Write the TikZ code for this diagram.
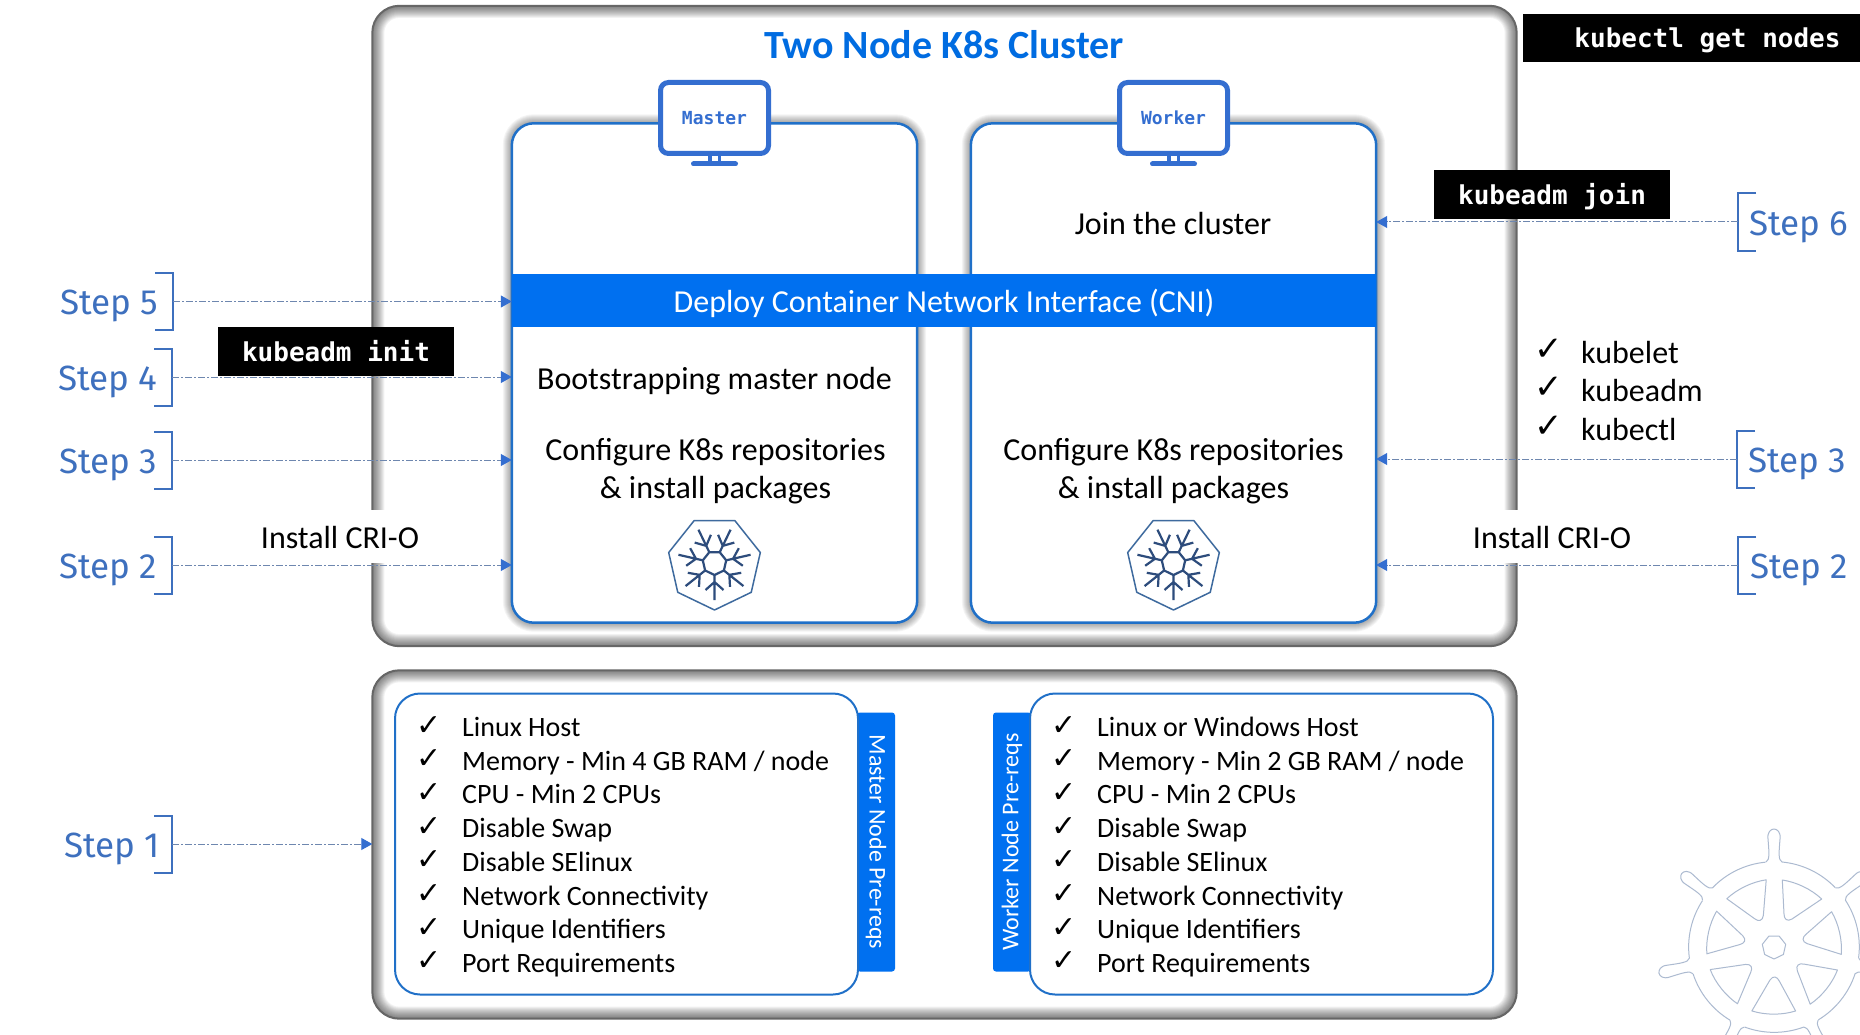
\documentclass[tikz,border=0pt]{standalone}
\usepackage{fontspec}
\setmainfont{Carlito}
\setmonofont{DejaVu Sans Mono}
\newfontfamily\stepfont{Fira Sans}
\newfontfamily\chkfont{DejaVu Sans}
\usetikzlibrary{arrows.meta}

\definecolor{bandblue}{RGB}{0,112,240}
\definecolor{lineblue}{RGB}{32,112,200}
\definecolor{pcblue}{RGB}{52,110,208}
\definecolor{stepblue}{RGB}{62,112,190}
\definecolor{dashblue}{RGB}{110,135,175}
\definecolor{titleblue}{RGB}{0,108,225}
\definecolor{snowdark}{RGB}{45,76,124}
\definecolor{snowedge}{RGB}{62,106,158}
\definecolor{wheelgrey}{RGB}{172,186,208}

\tikzset{
  panelbox/.style={inner sep=0pt},
  hostbox/.style={draw=lineblue, line width=2.5pt, fill=white, rounded corners=22pt},
  listbox/.style={draw=lineblue, line width=2pt, fill=white, rounded corners=25pt, inner sep=0pt},
  tabbox/.style={fill=bandblue, text=white, rounded corners=3pt, inner sep=0pt, font=\fontsize{24}{26}\selectfont},
  cmdbox/.style={fill=black, text=white, inner sep=0pt, text height=23pt, text depth=3pt, font=\ttfamily\bfseries\fontsize{26}{28}\selectfont},
  plain/.style={inner sep=0pt, align=center, font=\fontsize{32}{38}\selectfont},
  item/.style={inner sep=0pt, anchor=base west, font=\fontsize{28}{30}\selectfont},
  chk/.style={inner sep=0pt, anchor=base west, font=\chkfont\fontsize{30}{32}\selectfont},
  steplabel/.style={inner sep=0pt, anchor=base, text=stepblue, font=\stepfont\fontsize{35}{38}\selectfont},
  stepbracket/.style={draw=stepblue, line width=2pt},
  steparrow/.style={draw=dashblue, line width=1pt, dash pattern=on 7pt off 2pt on 2pt off 2pt,
    -{Triangle[length=11pt,width=12pt,color=pcblue]}},
  snowline/.style={draw=snowdark, line width=2.2pt},
  wheelline/.style={draw=wheelgrey, line width=1pt, line join=round}
}

\newcommand{\innershade}[1]{
  \begin{scope}
    \clip [rounded corners=27pt] (#1.south west) rectangle (#1.north east);
    \foreach \w in {24,22,...,2}
      \path [draw=black, opacity=.05, line width=\w pt, rounded corners=27pt, shift={(2,0)}]
        (#1.south west) rectangle (#1.north east);
  \end{scope}
  \path [draw=black!60, line width=2pt, rounded corners=27pt] (#1.south west) rectangle (#1.north east);
}
\newcommand{\outershade}[1]{
  \foreach \w in {18,16,...,2}
    \path [draw=black, opacity=.045, line width=\w pt, rounded corners=22pt]
      (#1.south west) rectangle (#1.north east);
  \path [hostbox] (#1.south west) rectangle (#1.north east);
}

\begin{document}
\begin{tikzpicture}[x=1pt,y=-1pt]
\useasboundingbox (0,0) rectangle (1860,1035);
\path [fill=white] (0,0) rectangle (1860,1035);

\begin{scope}
  \clip (0,0) rectangle (1860,1035);
  \foreach \k in {0,...,6} {
    \begin{scope}[shift={(1774,947)}, rotate=\k*360/7]
      \path [wheelline] (-8,-85) .. controls (-4,-87) and (-5,-95) .. (-6,-108)
        .. controls (-7,-115) and (-3,-118) .. (0,-118)
        .. controls (3,-118) and (7,-115) .. (6,-108)
        .. controls (5,-95) and (4,-87) .. (8,-85)
        arc [start angle=275.4, end angle=316, radius=85];
      \path [wheelline] (8.3,-67) .. controls (22,-65) and (37,-58) .. (47.7,-48)
        -- (18,-28) .. controls (13,-25) and (10,-28) .. (10,-33) -- cycle;
    \end{scope}
  }
  \draw [wheelline, shift={(1774,947)}, samples=8, domain=0:7]
    plot ({12*cos(90+\x*360/7)},{12*sin(90+\x*360/7)}) -- cycle;
\end{scope}

\node (cluster) [panelbox, minimum width=1144pt, minimum height=640pt] at (944.5,326) {};
\innershade{cluster}
\node (prereqs) [panelbox, minimum width=1144pt, minimum height=348pt] at (944.5,844.5) {};
\innershade{prereqs}

\node (titletext) [inner sep=0pt, anchor=base, text=titleblue, font=\bfseries\fontsize{40}{44}\selectfont] at (944,59) {Two Node K8s Cluster};

\node (master) [minimum width=405pt, minimum height=499pt, inner sep=0pt] at (714.5,373) {};
\outershade{master}
\node (worker) [minimum width=405pt, minimum height=499pt, inner sep=0pt] at (1173.5,373) {};
\outershade{worker}
\node (cni) [fill=bandblue, text=white, inner sep=0pt, minimum width=864pt, minimum height=53pt, text height=24pt, text depth=0pt, font=\fontsize{32}{34}\selectfont] at (944,300.5) {Deploy Container Network Interface (CNI)};

\foreach \pc/\lab/\cx in {masterpc/Master/714.5, workerpc/Worker/1173.5} {
  \node (\pc) [draw=pcblue, fill=white, line width=5pt, rounded corners=8pt, minimum width=108pt, minimum height=71pt, inner sep=0pt, text=pcblue, font=\ttfamily\bfseries\fontsize{18}{20}\selectfont] at (\cx,118) {\lab};
  \path [fill=pcblue] ([xshift=-6.5pt]\pc.south) rectangle ([xshift=-3pt,yshift=-6pt]\pc.south);
  \path [fill=pcblue] ([xshift=3pt]\pc.south) rectangle ([xshift=6.5pt,yshift=-6pt]\pc.south);
  \path [draw=pcblue, line width=5pt, line cap=round] ([xshift=-21pt,yshift=-8pt]\pc.south) -- ([xshift=21pt,yshift=-8pt]\pc.south);
}

\node (jointext) [plain] at (1173,223.5) {Join the cluster};
\node (boottext) [plain] at (714.5,381.5) {Bootstrapping master node};
\node (mconfig) [plain] at (715.5,471.5) {Configure K8s repositories\\\& install packages};
\node (wconfig) [plain] at (1173.5,471.5) {Configure K8s repositories\\\& install packages};

\foreach \cx in {714.5,1173.5} {
  \draw [draw=snowedge, line width=1.5pt, line join=round, shift={(\cx,563)}, samples=8, domain=0:7]
    plot ({47*cos(90+\x*360/7)},{47*sin(90+\x*360/7)}) -- cycle;
  \draw [snowline, line join=round, shift={(\cx,563)}, samples=8, domain=0:7]
    plot ({12*cos(90+\x*360/7)},{12*sin(90+\x*360/7)}) -- cycle;
  \foreach \k in {0,...,6}
    \draw [snowline, shift={(\cx,563)}, rotate=\k*360/7] (0,12) -- (0,37) (-9,27) -- (0,19) -- (9,27);
}

\node (mtab) [tabbox, minimum width=38pt, minimum height=259pt] at (876,842) {\rotatebox{-90}{Master Node Pre-reqs}};
\node (wtab) [tabbox, minimum width=38pt, minimum height=259pt] at (1012,842) {\rotatebox{90}{Worker Node Pre-reqs}};
\node (mlist) [listbox, minimum width=463pt, minimum height=301pt] at (626.5,844) {};
\node (wlist) [listbox, minimum width=463pt, minimum height=301pt] at (1261.5,844) {};

\foreach \txt [count=\i] in {Linux Host, Memory - Min 4 GB RAM / node, CPU - Min 2 CPUs, Disable Swap, Disable SElinux, Network Connectivity, Unique Identifiers, Port Requirements} {
  \node (mchk\i) [chk] at (416,{735+(\i-1)*33.7}) {✓};
  \node (mitem\i) [item] at (462,{736.5+(\i-1)*33.7}) {\txt};
}
\foreach \txt [count=\i] in {Linux or Windows Host, Memory - Min 2 GB RAM / node, CPU - Min 2 CPUs, Disable Swap, Disable SElinux, Network Connectivity, Unique Identifiers, Port Requirements} {
  \node (wchk\i) [chk] at (1051,{735+(\i-1)*33.7}) {✓};
  \node (witem\i) [item] at (1097,{736.5+(\i-1)*33.7}) {\txt};
}

\foreach \txt/\y [count=\i] in {kubelet/363.5, kubeadm/401.5, kubectl/440.5} {
  \node (pchk\i) [chk, font=\chkfont\fontsize{34}{36}\selectfont] at (1534,\y-3) {✓};
  \node (pitem\i) [item, font=\fontsize{32}{34}\selectfont] at (1581,\y) {\txt};
}

\node (crileft) [fill=white, inner sep=0pt, minimum width=180pt, minimum height=53pt, text height=23pt, text depth=0pt, font=\fontsize{32}{34}\selectfont] at (340,536.5) {Install CRI-O};
\node (criright) [fill=white, inner sep=0pt, minimum width=180pt, minimum height=53pt, text height=23pt, text depth=0pt, font=\fontsize{32}{34}\selectfont] at (1552,536.5) {Install CRI-O};

\foreach \n/\y/\tx/\bx/\tgt in {5/301.5/109.5/173/master, 4/377/107.5/172/master, 3/460/108.5/172/master, 2/565/108/172/master, 1/844/112/172/prereqs} {
  \node (lstep\n) [steplabel] at (\tx,{\y+13}) {Step \n};
  \coordinate (lend\n) at (\bx,\y);
  \path [stepbracket] (\bx-18,\y-28.5) -- (\bx,\y-28.5) -- (\bx,\y+28.5) -- (\bx-18,\y+28.5);
  \path [steparrow] (lend\n) -- (lend\n -| \tgt.west);
}
\foreach \n/\y/\tx/\bx in {6/222/1798.5/1738, 3/459/1797.5/1737, 2/565/1799.5/1738} {
  \node (rstep\n) [steplabel] at (\tx,{\y+13}) {Step \n};
  \coordinate (rend\n) at (\bx,\y);
  \path [stepbracket] (\bx+18,\y-28.5) -- (\bx,\y-28.5) -- (\bx,\y+28.5) -- (\bx+18,\y+28.5);
  \path [steparrow] (rend\n) -- (rend\n -| worker.east);
}

\node (initcmd) [cmdbox, minimum width=236pt, minimum height=49pt] at (336,351.5) {kubeadm init};
\node (joincmd) [cmdbox, minimum width=236pt, minimum height=49pt] at (1552,194.5) {kubeadm join};
\node (getcmd) [cmdbox, minimum width=337pt, minimum height=48pt] at (1691.5,38) {\hspace{32pt}kubectl get nodes};
\end{tikzpicture}
\end{document}
